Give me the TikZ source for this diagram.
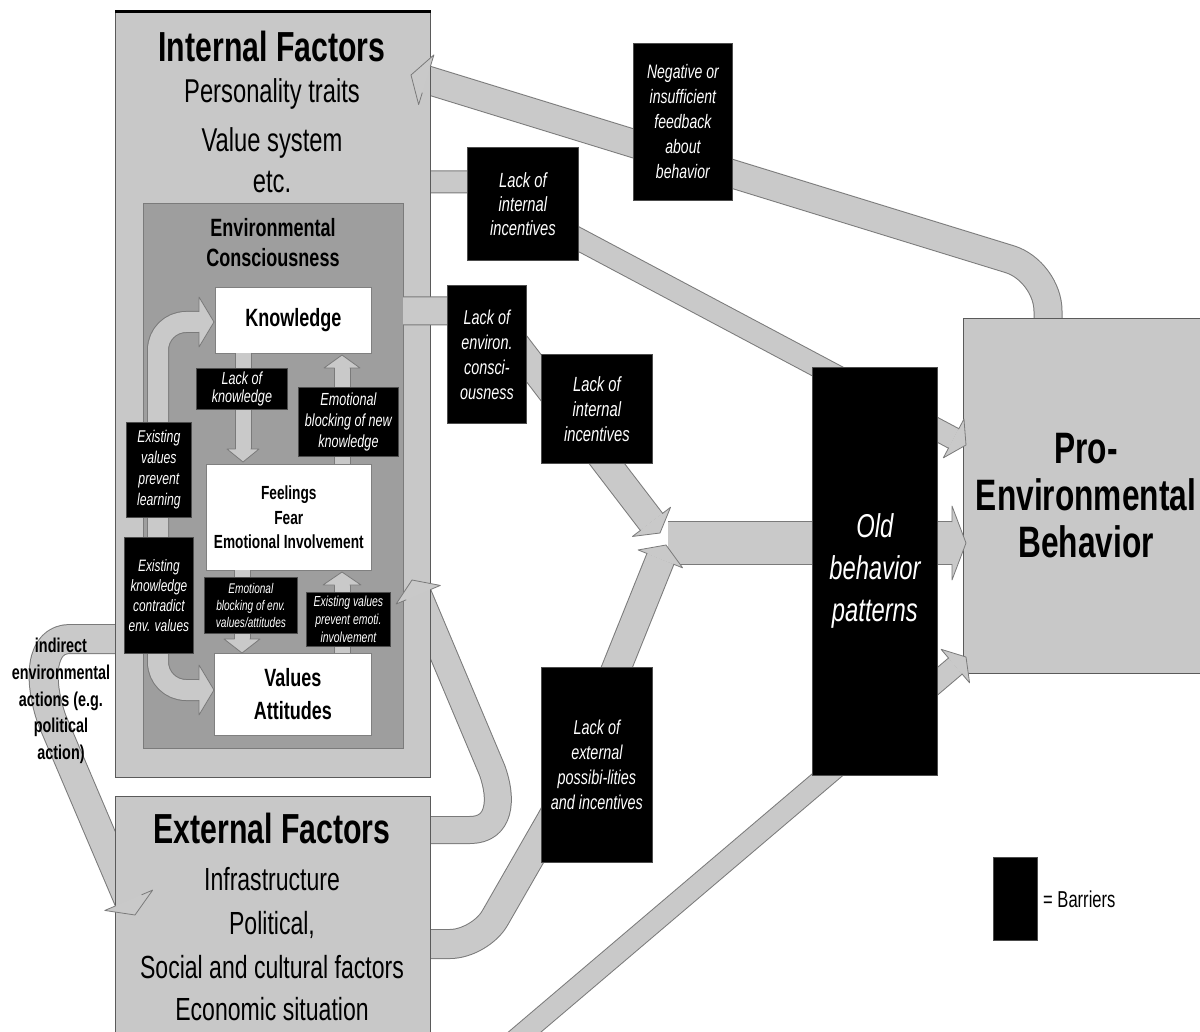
\documentclass[tikz,border=0pt]{standalone}
\usepackage{fontspec}
\setmainfont{Liberation Sans}[FakeStretch=0.72]
\usetikzlibrary{calc}
\definecolor{lgray}{HTML}{C8C8C8}
\definecolor{envgray}{HTML}{9E9E9E}
\definecolor{bandfill}{HTML}{C9C9C9}
\definecolor{bandedge}{HTML}{7A7A7A}
\definecolor{boxedge}{HTML}{5A5A5A}
\newcommand\setfs[2]{\fontsize{#1}{#2}\selectfont}
% band: #1 width, #2 outer width, #3 options, #4 path
\newcommand\band[4]{%
  \draw[line width=#2pt, draw=bandedge, line join=round, #3] #4;
  \draw[line width=#1pt, draw=bandfill, line join=round, #3] #4;}
% head: #1 base, #2 tip, #3 shaft half width, #4 head half width
\newcommand\bhead[4]{%
  \fill[bandfill] ($(#1)!#4!90:(#2)$) -- (#2) -- ($(#1)!#4!-90:(#2)$) -- cycle;
  \draw[bandedge, line width=0.8pt, line join=round]
    ($(#1)!#3!90:(#2)$) -- ($(#1)!#4!90:(#2)$) -- (#2) -- ($(#1)!#4!-90:(#2)$) -- ($(#1)!#3!-90:(#2)$);}
\tikzset{
  factorbox/.style={draw=boxedge, line width=1pt, fill=lgray, inner sep=0pt, anchor=north west},
  envbox/.style={draw=boxedge!80, line width=1pt, fill=envgray, inner sep=0pt, anchor=north west},
  whitebox/.style={draw=gray, line width=0.6pt, fill=white, inner sep=0pt, anchor=north west, align=center},
  barrier/.style={draw=gray!60!black, line width=0.8pt, fill=black, text=white, inner sep=0pt, anchor=north west, align=center},
  txt/.style={inner sep=0pt, anchor=base},
}
\begin{document}
\begin{tikzpicture}[x=1pt,y=-1pt]
\useasboundingbox (0,0) rectangle (1200,1032);
\fill[white] (0,0) rectangle (1200,1032);
\clip (0,0) rectangle (1200,1032);

% ---------- coordinates ----------
\coordinate (fbS) at (1048,320);
\coordinate (fbC) at (1048,271);
\coordinate (fbT) at (411,75);
\coordinate (fbB) at ($(fbT)!16pt!(fbC)$);

\coordinate (iaS) at (430,182);
\coordinate (iaC1) at (500,182);
\coordinate (iaC2) at (520,208);
\coordinate (iaT) at (966,445);
\coordinate (iaB) at ($(iaT)!14pt!(iaC2)$);

\coordinate (mnS) at (668,543);
\coordinate (mnT) at (966,543);
\coordinate (mnB) at ($(mnT)!14pt!(mnS)$);

\coordinate (btS) at (480,1070);
\coordinate (btT) at (966,657);
\coordinate (btB) at ($(btT)!14pt!(btS)$);

\coordinate (e2S) at (430,944);
\coordinate (e2C1) at (480,944);
\coordinate (e2C2) at (565,796);
\coordinate (e2T) at (666,545);
\coordinate (e2B) at ($(e2T)!15pt!(e2C2)$);

\coordinate (eiS) at (430,830);
\coordinate (eiC) at (492,770);
\coordinate (eiT) at (412,580);
\coordinate (eiB) at ($(eiT)!16pt!(eiC)$);

\coordinate (inS) at (115,639);
\coordinate (inC) at (52,720);
\coordinate (inT) at (135,915);
\coordinate (inB) at ($(inT)!16pt!(inC)$);

\coordinate (leS) at (403,311);
\coordinate (leC) at (490,311);
\coordinate (leT) at (660,533);
\coordinate (leB) at ($(leT)!14pt!(leC)$);

% ---------- bands behind boxes ----------
\band{27}{29}{rounded corners=40pt}{(fbS) -- (fbC) -- (fbB)}
\band{21}{23}{}{(iaS) -- (iaC1) -- (iaC2) -- (iaB)}
\band{42}{44}{}{(mnS) -- (mnB)}
\band{20}{22}{}{(btS) -- (btB)}
\band{28}{30}{rounded corners=30pt}{(e2S) -- (e2C1) -- (e2C2) -- (e2B)}
\band{26}{28}{}{(eiS) -- (470,830) .. controls (500,830) and (503,800) .. (eiC) -- (eiB)}
\band{28}{30}{}{(inS) -- (70,639) .. controls (40,639) and (38,680) .. (inC) -- (inB)}

% ---------- factor boxes ----------
\node[factorbox, minimum width=315pt, minimum height=765pt] (intbox) at (115,12) {};
\node[factorbox, minimum width=315pt, minimum height=250pt] (extbox) at (115,796) {};
\node[envbox, minimum width=260pt, minimum height=545pt] (envbox) at (143,203) {};
\draw[line width=3pt, black] (intbox.north west) -- (intbox.north east);

% band from environmental consciousness
\band{27}{29}{}{(leS) -- (leC) -- (leB)}

% ---------- white boxes ----------
\node[whitebox, minimum width=156pt, minimum height=66pt, font=\bfseries\setfs{25}{28}] (know) at (215,287) {Knowledge};
\node[whitebox, minimum width=165pt, minimum height=106pt, font=\bfseries\setfs{19}{24.5}] (feel) at (206,464) {Feelings\\Fear\\Emotional Involvement};
\node[whitebox, minimum width=157pt, minimum height=82pt, font=\bfseries\setfs{25}{33}] (vals) at (214,653) {Values\\Attitudes};

% ---------- inner arrows ----------
\coordinate (lcT1) at (214,322); \coordinate (lcB1) at (199,322);
\coordinate (lcT2) at (214,690); \coordinate (lcB2) at (199,690);
\band{20}{22}{rounded corners=28pt}{(lcB1) -- (158,322) -- (158,690) -- (lcB2)}
\bhead{lcB1}{lcT1}{10pt}{25pt}
\bhead{lcB2}{lcT2}{10pt}{25pt}

\coordinate (kdS) at (243,353); \coordinate (kdT) at (243,462); \coordinate (kdB) at (243,449);
\coordinate (kuS) at (342,464); \coordinate (kuT) at (342,355); \coordinate (kuB) at (342,368);
\coordinate (vdS) at (242,570); \coordinate (vdT) at (242,653); \coordinate (vdB) at (242,639);
\coordinate (vuS) at (342,653); \coordinate (vuT) at (342,572); \coordinate (vuB) at (342,585);
\band{15}{17}{}{(kdS) -- (kdB)} \bhead{kdB}{kdT}{7.5pt}{16pt}
\band{15}{17}{}{(kuS) -- (kuB)} \bhead{kuB}{kuT}{7.5pt}{18pt}
\band{15}{17}{}{(vdS) -- (vdB)} \bhead{vdB}{vdT}{7.5pt}{18pt}
\band{15}{17}{}{(vuS) -- (vuB)} \bhead{vuB}{vuT}{7.5pt}{19pt}

% ---------- inner barriers ----------
\node[barrier, minimum width=91pt, minimum height=41pt, font=\setfs{17.5}{18}\itshape] (lk) at (196,368) {Lack of\\knowledge};
\node[barrier, minimum width=100pt, minimum height=69pt, font=\setfs{17.5}{21}\itshape] (eb1) at (298,387) {Emotional\\blocking of new\\knowledge};
\node[barrier, minimum width=65pt, minimum height=95pt, font=\setfs{17}{21}\itshape] (evl) at (126,422) {Existing\\values\\prevent\\learning};
\node[barrier, minimum width=69pt, minimum height=116pt, font=\setfs{16.5}{20}\itshape] (ekc) at (124,537) {Existing\\knowledge\\contradict\\env. values};
\node[barrier, minimum width=93pt, minimum height=56pt, font=\setfs{14}{17}\itshape] (eb2) at (204,577) {Emotional\\blocking of env.\\values/attitudes};
\node[barrier, minimum width=84pt, minimum height=54pt, font=\setfs{14.5}{18}\itshape] (evi) at (306,592) {Existing values\\prevent emoti.\\involvement};

% ---------- outer barriers and targets ----------
\node[barrier, minimum width=99pt, minimum height=157pt, font=\setfs{19.5}{25}\itshape] (neg) at (633,43) {Negative or\\insufficient\\feedback\\about\\behavior};
\node[barrier, minimum width=111pt, minimum height=113pt, font=\setfs{20.5}{24}\itshape] (ia1) at (467,147) {Lack of\\internal\\incentives};
\node[barrier, minimum width=79pt, minimum height=138pt, font=\setfs{20}{25}\itshape] (lenv) at (447,285) {Lack of\\environ.\\consci-\\ousness};
\node[barrier, minimum width=111pt, minimum height=109pt, font=\setfs{20.5}{25}\itshape] (ia2) at (541,354) {Lack of\\internal\\incentives};
\node[barrier, minimum width=111pt, minimum height=195pt, font=\setfs{20}{25}\itshape] (lext) at (541,667) {Lack of\\external\\possibi-lities\\and incentives};
\node[barrier, minimum width=125pt, minimum height=408pt, font=\setfs{33}{42}\itshape] (old) at (812,367) {Old\\behavior\\patterns};
\node[factorbox, minimum width=245pt, minimum height=355pt, align=center, font=\bfseries\setfs{44}{47}] (pro) at (963,318) {Pro-\\Environmental\\Behavior};
\node[barrier, minimum width=44pt, minimum height=83pt] (leg) at (993,857) {};

% ---------- arrow heads ----------
\bhead{fbB}{fbT}{13.5pt}{26pt}
\bhead{iaB}{iaT}{10.5pt}{22pt}
\bhead{mnB}{mnT}{21pt}{37pt}
\bhead{btB}{btT}{10pt}{22pt}
\bhead{e2B}{e2T}{14pt}{24pt}
\bhead{eiB}{eiT}{13pt}{24pt}
\bhead{inB}{inT}{14pt}{26pt}
\bhead{leB}{leT}{13.5pt}{24pt}

% ---------- free texts ----------
\node[txt, font=\bfseries\setfs{42}{46}] (intT) at (272,62) {Internal Factors};
\node[txt, font=\setfs{33}{36}] (int1) at (272,103) {Personality traits};
\node[txt, font=\setfs{33}{36}] (int2) at (272,152) {Value system};
\node[txt, font=\setfs{33}{36}] (int3) at (272,193) {etc.};
\node[txt, font=\bfseries\setfs{25}{28}] (env1) at (273,237) {Environmental};
\node[txt, font=\bfseries\setfs{25}{28}] (env2) at (273,267) {Consciousness};
\node[txt, font=\bfseries\setfs{42}{46}] (extT) at (272,843) {External Factors};
\node[txt, font=\setfs{32}{36}] (ext1) at (272,890) {Infrastructure};
\node[txt, font=\setfs{32}{36}] (ext2) at (272,934) {Political,};
\node[txt, font=\setfs{32}{36}] (ext3) at (272,978) {Social and cultural factors};
\node[txt, font=\setfs{32}{36}] (ext4) at (272,1020) {Economic situation};
\node[inner sep=0pt, align=center, font=\bfseries\setfs{20}{26.8}] (indir) at (61,701) {indirect\\environmental\\actions (e.g.\\political\\action)};
\node[txt, anchor=base west, font=\setfs{23}{26}] (legT) at (1043,907) {= Barriers};
\end{tikzpicture}
\end{document}
